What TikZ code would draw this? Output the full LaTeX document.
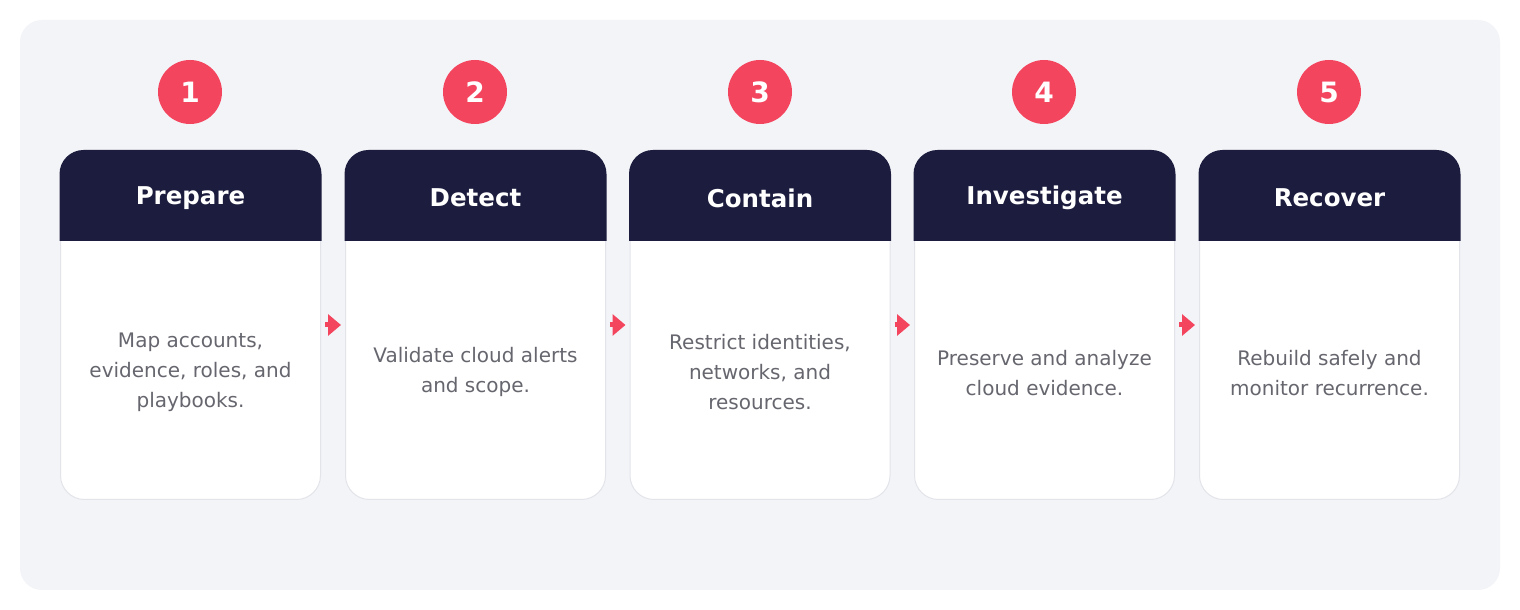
\documentclass[tikz,border=0pt]{standalone}
\usepackage{fontspec}
\setmainfont{DejaVu Sans}
\usetikzlibrary{arrows.meta,calc}
\definecolor{navy}{HTML}{1C1C3E}
\definecolor{rose}{HTML}{F4455F}
\definecolor{panel}{HTML}{F3F4F8}
\definecolor{cardline}{HTML}{E3E4EA}
\definecolor{bodytext}{HTML}{66666F}
\tikzset{
  card/.style={draw=cardline, line width=1pt, fill=white, rounded corners=24pt,
    minimum width=260pt, minimum height=349pt, inner sep=0pt},
  num/.style={circle, fill=rose, minimum size=64pt, inner sep=0pt, text=white,
    font=\fontsize{28}{32}\selectfont\bfseries},
  title/.style={text=white, font=\fontsize{24.5}{29}\selectfont\bfseries, inner sep=0pt},
  desc/.style={text=bodytext, align=center, font=\fontsize{20}{30}\selectfont, inner sep=0pt},
  flow/.style={draw=rose, line width=5pt, -{Triangle[length=13pt,width=21pt]},
    shorten <=4pt, shorten >=4pt}
}
\begin{document}
\begin{tikzpicture}[x=1pt,y=1pt]
\useasboundingbox (0,0) rectangle (1520,610);
\fill[white] (0,0) rectangle (1520,610);
\fill[panel, rounded corners=22pt] (20,20) rectangle (1500,590);
% cards
\foreach \i/\x in {1/190.5,2/475.5,3/760,4/1044.5,5/1329.5}{
  \node[card] (c\i) at (\x,285) {};
  \fill[navy] ([yshift=-91pt,xshift=-0.5pt]c\i.north west) [rounded corners=24pt]
    -- ([xshift=-0.5pt]c\i.north west) -- ([xshift=0.5pt]c\i.north east) [sharp corners]
    -- ([yshift=-91pt,xshift=0.5pt]c\i.north east) -- cycle;
}
\node[num] (n1) at (190,518) {1};
\node[num] (n2) at (475,518) {2};
\node[num] (n3) at (760,518) {3};
\node[num] (n4) at (1044,518) {4};
\node[num] (n5) at (1329,518) {5};
\node[title] (h1) at (190.5,412) {Prepare};
\node[title] (h2) at (475.5,412) {Detect};
\node[title] (h3) at (760,412) {Contain};
\node[title] (h4) at (1044.5,412) {Investigate};
\node[title] (h5) at (1329.5,412) {Recover};
\node[desc] (d1) at (190.5,238) {Map accounts,\\evidence, roles, and\\playbooks.};
\node[desc] (d2) at (475.5,238) {Validate cloud alerts\\and scope.};
\node[desc] (d3) at (760,238) {Restrict identities,\\networks, and\\resources.};
\node[desc] (d4) at (1044.5,237) {Preserve and analyze\\cloud evidence.};
\node[desc] (d5) at (1329.5,237) {Rebuild safely and\\monitor recurrence.};
\draw[flow] (c1.east) -- (c2.west);
\draw[flow] (c2.east) -- (c3.west);
\draw[flow] (c3.east) -- (c4.west);
\draw[flow] (c4.east) -- (c5.west);
\end{tikzpicture}
\end{document}
